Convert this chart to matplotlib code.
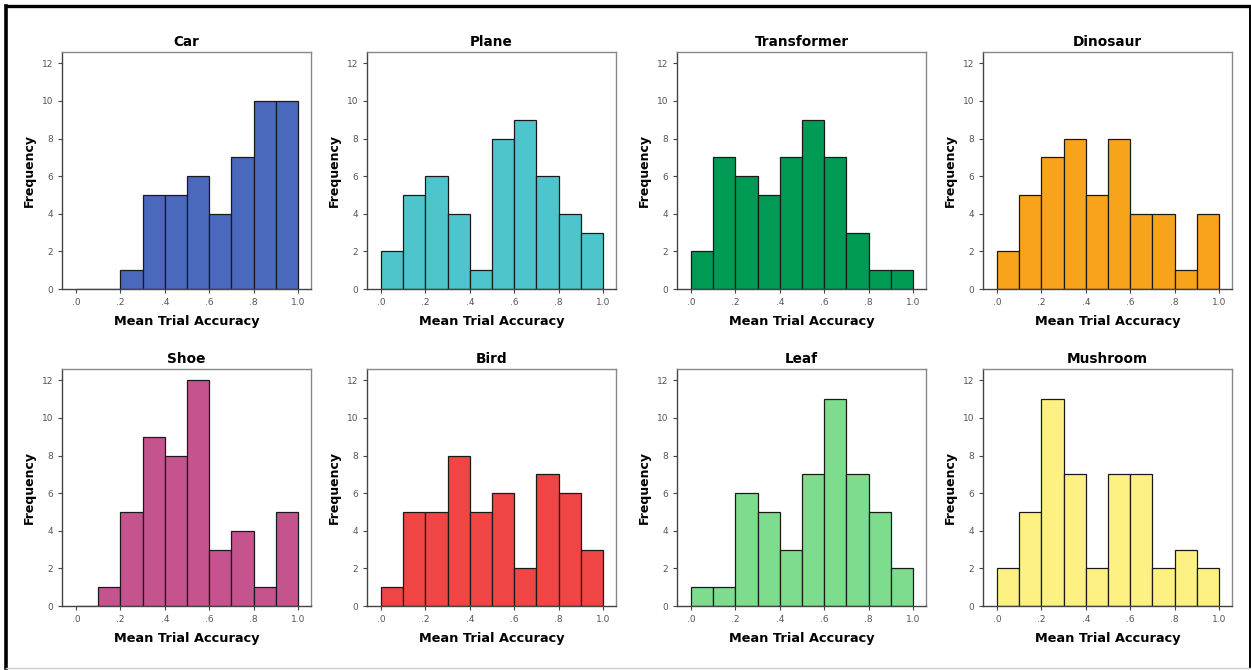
import numpy as np
import matplotlib
matplotlib.use("Agg")
import matplotlib.pyplot as plt
from matplotlib.lines import Line2D

# frequencies per bin (0-.1, .1-.2, ..., .9-1.0)
titles = ["Car", "Plane", "Transformer", "Dinosaur", "Shoe", "Bird", "Leaf", "Mushroom"]
car = [0, 0, 1, 5, 5, 6, 4, 7, 10, 10]
plane = [2, 5, 6, 4, 1, 8, 9, 6, 4, 3]
transformer = [2, 7, 6, 5, 7, 9, 7, 3, 1, 1]
dinosaur = [2, 5, 7, 8, 5, 8, 4, 4, 1, 4]
shoe = [0, 1, 5, 9, 8, 12, 3, 4, 1, 5]
bird = [1, 5, 5, 8, 5, 6, 2, 7, 6, 3]
leaf = [1, 1, 6, 5, 3, 7, 11, 7, 5, 2]
mushroom = [2, 5, 11, 7, 2, 7, 7, 2, 3, 2]
series = [car, plane, transformer, dinosaur, shoe, bird, leaf, mushroom]
colors = ["#4A68BC", "#4EC5CD", "#009A55", "#F8A31C", "#C5548E", "#EF4544", "#7DDC8E", "#FCF182"]
bin_edges = np.round(np.arange(0, 1.0, 0.1), 1)
xticks = [0, 0.2, 0.4, 0.6, 0.8, 1.0]
xticklabels = [".0", ".2", ".4", ".6", ".8", "1.0"]
yticks = [0, 2, 4, 6, 8, 10, 12]

W, H = 1251, 670
fig = plt.figure(figsize=(W / 100, H / 100), dpi=100)
fig.patch.set_facecolor("white")

col_left = [62, 367, 677, 983]
row_top = [52, 369]
aw, ah = 249, 237

for i, (name, vals, c) in enumerate(zip(titles, series, colors)):
    r, k = divmod(i, 4)
    ax = fig.add_axes([col_left[k] / W, 1 - (row_top[r] + ah) / H, aw / W, ah / H])
    ax.bar(bin_edges, vals, width=0.1, align="edge", color=c, edgecolor="#1a1a1a", linewidth=0.9)
    ax.set_xlim(-0.063, 1.059)
    ax.set_ylim(0, 12.6)
    ax.set_xticks(xticks)
    ax.set_xticklabels(xticklabels)
    ax.set_yticks(yticks)
    ax.tick_params(labelsize=6.5, labelcolor="#555555", color="#444444", length=3, width=0.8)
    for side, s in ax.spines.items():
        s.set_color("#444444" if side in ("left", "bottom") else "#888888")
        s.set_linewidth(1.0)
    ax.set_title(name, fontsize=9.8, fontweight="bold", pad=4)
    ax.set_xlabel("Mean Trial Accuracy", fontsize=9.3, fontweight="bold", labelpad=6)
    ax.set_ylabel("Frequency", fontsize=9, fontweight="bold", labelpad=4)

# outer frame: heavy top/left, thin right, faint bottom
tf = fig.transFigure
fig.lines.append(Line2D([6 / W, 1250 / W], [1 - 6 / H, 1 - 6 / H], transform=tf, color="black", linewidth=2.4))
fig.lines.append(Line2D([6 / W, 6 / W], [1 - 6 / H, 1 - 668 / H], transform=tf, color="black", linewidth=2.6))
fig.lines.append(Line2D([1249.5 / W, 1249.5 / W], [1 - 6 / H, 1 - 668 / H], transform=tf, color="black", linewidth=1.4))
fig.lines.append(Line2D([6 / W, 1250 / W], [1 - 668 / H, 1 - 668 / H], transform=tf, color="#cccccc", linewidth=1.0))

fig.savefig("out.png", dpi=100)
